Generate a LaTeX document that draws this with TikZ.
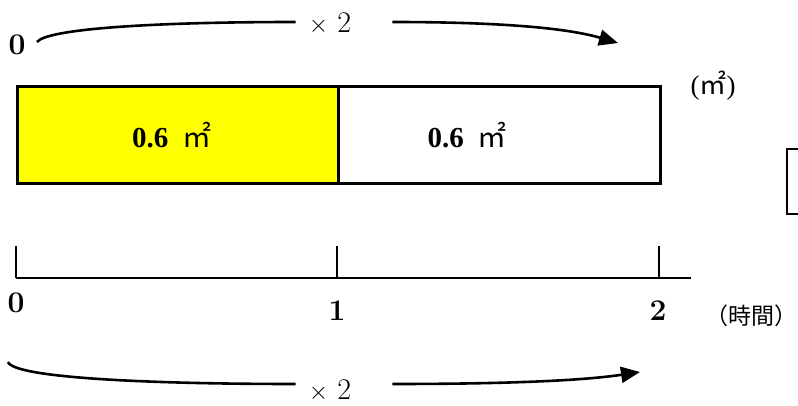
\documentclass[tikz,border=0pt]{standalone}
\usepackage{fontspec}
\usetikzlibrary{arrows.meta,calc}
\newfontfamily\jpfont{Noto Sans CJK JP}
\newfontfamily\tmfont{Liberation Serif}
\definecolor{AreaYellow}{HTML}{FFFF00}
\newcommand{\sqm}{{\jpfont ㎡}}

\begin{document}
\begin{tikzpicture}[x=1pt,y=-1pt,
    numtext/.style={font=\fontsize{30}{34}\selectfont},
    areatext/.style={font=\tmfont\fontsize{29}{34}\selectfont},
    bigline/.style={line width=2.6pt},
    tickline/.style={line width=2pt},
    bendarrow/.style={bigline,-{Triangle[length=19pt,width=16pt]}}]
  \useasboundingbox (0,0) rectangle (798,406);

  % area bar
  \node[draw,bigline,fill=AreaYellow,minimum width=321pt,minimum height=97pt,anchor=north west,inner sep=0pt] (left) at (16,85) {};
  \node[draw,bigline,minimum width=322pt,minimum height=97pt,anchor=north west,inner sep=0pt] (right) at (337,85) {};
  \node[areatext] at ([xshift=-6pt]left.center) {\textbf{0.6}\hspace{14pt}\sqm};
  \node[areatext] at ([xshift=-32pt]right.center) {\textbf{0.6}\hspace{14pt}\sqm};
  \node[areatext,font=\tmfont\fontsize{27}{30}\selectfont] (unitA) at (713,86) {(\sqm)};

  % partial box at the edge
  \draw[tickline] (800,149) -- (787,149) -- (787,214) -- (800,214);

  % time axis
  \coordinate (a0) at (16,278);
  \coordinate (a1) at (337,278);
  \coordinate (a2) at (659,278);
  \coordinate (aend) at (691,278);
  \draw[tickline] (a0) -- (aend);
  \foreach \p in {a0,a1,a2}
    \draw[tickline] (\p) -- ++(0,-32);
  \node[numtext] (t0) at (16,303) {\textbf{0}};
  \node[numtext] (t1) at (337,311) {\textbf{1}};
  \node[numtext] (t2) at (658,311) {\textbf{2}};
  \node[font=\fontsize{23}{26}\selectfont\jpfont,inner sep=0pt] (unitB) at (751,316) {（時間）};

  % x2 above
  \node[numtext] (zeroT) at (17,45) {\textbf{0}};
  \node[numtext,inner sep=0pt] (timesT) at (330,24) {$\times$ 2};
  \coordinate (topend) at (618,43);
  \draw[bigline] ($(zeroT.east)+(8,-3)$) .. controls ($(zeroT.east)+(18,-16)$) and (150,22) .. ($(timesT.west)+(-13,-2)$);
  \draw[bendarrow] ($(timesT.east)+(41,-2)$) .. controls (480,22) and (560,26) .. (topend);

  % x2 below
  \coordinate (botstart) at (8,362);
  \node[numtext,inner sep=0pt] (timesB) at (330,391) {$\times$ 2};
  \coordinate (botend) at (640,372);
  \draw[bigline] (botstart) .. controls (14,378) and (150,384) .. ($(timesB.west)+(-13,-7)$);
  \draw[bendarrow] ($(timesB.east)+(41,-7)$) .. controls (500,384) and (580,381) .. (botend);
\end{tikzpicture}
\end{document}
